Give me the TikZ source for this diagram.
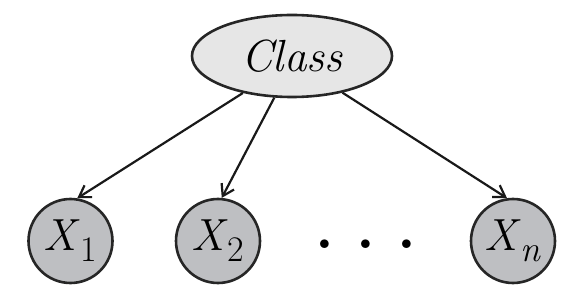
\documentclass[tikz,border=0pt]{standalone}
\usetikzlibrary{arrows.meta,shapes.geometric}
\definecolor{classgray}{RGB}{230,230,230}
\definecolor{vargray}{RGB}{190,191,194}
\newcommand{\varsub}[1]{\raisebox{-11pt}{\fontsize{36}{38}\selectfont #1}}

\begin{document}
\begin{tikzpicture}[
        x=1pt, y=-1pt,
        classnode/.style={ellipse, draw=black!85, line width=2.6pt, fill=classgray,
            minimum width=200pt, minimum height=82pt, inner sep=0pt,
            font=\fontsize{45}{50}\selectfont\itshape},
        varnode/.style={circle, draw=black!85, line width=2.6pt, fill=vargray,
            minimum size=84pt, inner sep=0pt, font=\fontsize{45}{50}\selectfont},
        arrow/.style={-{Straight Barb[length=11pt,width=14pt,line width=2.2pt]},
            line width=2.2pt, black!90}
    ]
        \useasboundingbox (0,0) rectangle (579,302);
        \node[classnode] (cls) at (292,56) {Class};
        \node[varnode] (x1) at (70.5,241) {\textit{X}\varsub{1}};
        \node[varnode] (x2) at (218,241) {\textit{X}\varsub{2}};
        \node[varnode] (xn) at (513,241) {\textit{X}\varsub{\textit{n}}};
        \node[font=\fontsize{60}{60}\selectfont\bfseries, inner sep=0pt] (dots) at (366,244)
            {.\hspace{22pt}.\hspace{22pt}.};

        \draw[arrow] (cls.217) -- (x1.81);
        \draw[arrow] (cls.247) -- (x2.85);
        \draw[arrow] (cls.324) -- (xn.98);
    \end{tikzpicture}
\end{document}
